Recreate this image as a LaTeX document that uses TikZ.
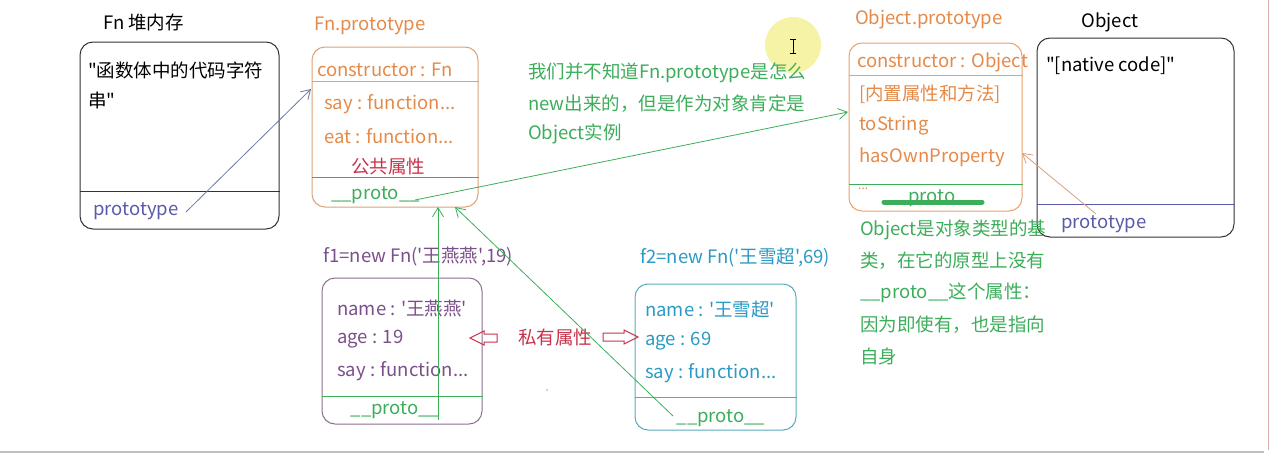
\documentclass[tikz,border=0pt]{standalone}
\usepackage{fontspec}
\newfontfamily\yh{Noto Sans CJK SC}
\usetikzlibrary{arrows.meta}
\definecolor{boxblack}{HTML}{333333}
\definecolor{protoblue}{HTML}{5A5AAA}
\definecolor{orng}{HTML}{E58A48}
\definecolor{orngbox}{HTML}{DBA277}
\definecolor{crim}{HTML}{C8334A}
\definecolor{grn}{HTML}{3CAE5A}
\definecolor{purp}{HTML}{7B4F8B}
\definecolor{purpbox}{HTML}{8C7090}
\definecolor{teal}{HTML}{2B9AC4}
\definecolor{tealbox}{HTML}{5AAABB}
\definecolor{arrblue}{HTML}{6A7AA8}
\definecolor{arrtan}{HTML}{D8A080}
\definecolor{cursory}{HTML}{F6F3A6}
\tikzset{
  x=1pt, y=-1pt,
  txt/.style={inner sep=0pt, anchor=west, font=\yh\fontsize{18.5}{22}\selectfont},
  ctxt/.style={inner sep=0pt, anchor=center, font=\yh\fontsize{18.5}{22}\selectfont},
  umlbox/.style={draw=#1, line width=1pt, rounded corners=13pt, inner sep=0pt, fill=none},
  conn/.style={draw=#1, line width=0.8pt, -{Straight Barb[length=9pt,width=11pt,line width=0.8pt]}},
  hollow/.style={draw=crim, line width=1pt, line join=miter},
}
\begin{document}
\begin{tikzpicture}
\useasboundingbox (0,0) rectangle (1272,455);
\fill[white] (0,0) rectangle (1272,455);
% screen artifacts
\fill[cursory] (793,45) circle (28);
\draw[line width=1pt] (793,39) -- (793,53) (790,39) -- (796,39) (790,53) -- (796,53);
\draw[color=pink!70!gray, line width=1pt] (1268,0) -- (1268,450);
\draw[color=gray!50, line width=1.2pt] (0,452) -- (1264,452);
\fill[gray!70] (547,390) circle (0.8);

% ---------- Fn heap ----------
\node[txt, text=black] (heaptitle) at (103,22) {Fn 堆内存};
\node[umlbox=boxblack, minimum width=199pt, minimum height=187pt] (heap) at (179.5,135.5) {};
\draw[boxblack, line width=1pt] (heap.west |- 0,191) -- (heap.east |- 0,191);
\node[txt, text=black] (heapcode1) at (88,70) {"函数体中的代码字符};
\node[txt, text=black] (heapcode2) at (88,100) {串"};
\node[txt, text=protoblue] (heapproto) at (93,211) {prototype};

% ---------- Fn.prototype ----------
\node[txt, text=orng] (fnptitle) at (314,26) {Fn.prototype};
\node[umlbox=orngbox, minimum width=166pt, minimum height=160pt] (fnp) at (395,127) {};
\draw[orngbox, line width=1pt] (fnp.west |- 0,81) -- (fnp.east |- 0,81);
\draw[grn, line width=1pt] (fnp.west |- 0,177) -- (fnp.east |- 0,177);
\node[txt, text=orng] (fnpctor) at (317,70) {constructor : Fn};
\node[txt, text=orng] (fnpsay) at (324,104) {say : function...};
\node[txt, text=orng] (fnpeat) at (324,136) {eat : function...};
\node[ctxt, text=crim] (fnppub) at (388,166) {公共属性};
\node[txt, text=grn] (fnpproto) at (331,195) {\_\_proto\_\_};

% ---------- green note ----------
\node[txt, text=grn] (note1) at (528,73) {我们并不知道Fn.prototype是怎么};
\node[txt, text=grn] (note2) at (528,104) {new出来的，但是作为对象肯定是};
\node[txt, text=grn] (note3) at (528,134) {Object实例};

% ---------- Object.prototype ----------
\node[txt, text=orng] (optitle) at (855,19) {Object.prototype};
\node[umlbox=orng!80, minimum width=173pt, minimum height=168pt] (op) at (935.5,127) {};
\draw[orng!80, line width=1pt] (op.west |- 0,75) -- (op.east |- 0,75);
\draw[grn, line width=1pt] (op.west |- 0,184) -- (op.east |- 0,184);
\node[txt, text=orng] (opctor) at (857,62) {constructor : Object};
\node[txt, text=orng] (opbuiltin) at (859,94) {[内置属性和方法]};
\node[txt, text=orng] (optostring) at (859,126) {toString};
\node[txt, text=orng] (ophas) at (859,157) {hasOwnProperty};
\node[txt, text=orng] (opdots) at (858,189) {\fontsize{12}{12}\selectfont ...};
\node[ctxt, text=grn] (opproto) at (932,198) {\_\_proto\_\_};
\draw[grn, line width=5pt, line cap=round] (884,202) -- (982,202);

% ---------- Object ----------
\node[ctxt, text=black] (objtitle) at (1110,22) {Object};
\node[umlbox=boxblack, minimum width=197pt, minimum height=199pt] (obj) at (1135.5,137.5) {};
\draw[protoblue, line width=1pt] (obj.west |- 0,204) -- (obj.east |- 0,204);
\node[txt, text=black] (objcode) at (1046,66) {"[native code]"};
\node[txt, text=protoblue] (objproto) at (1061,224) {prototype};

% ---------- Object note ----------
\node[txt, text=grn] (onote1) at (860,230) {Object是对象类型的基};
\node[txt, text=grn] (onote2) at (860,261) {类，在它的原型上没有};
\node[txt, text=grn] (onote3) at (860,293) {\_\_proto\_\_这个属性：};
\node[txt, text=grn] (onote4) at (860,325) {因为即使有，也是指向};
\node[txt, text=grn] (onote5) at (860,357) {自身};

% ---------- f1 ----------
\node[txt, text=purp] (f1title) at (323,257) {f1=new Fn('王燕燕',19)};
\node[umlbox=purpbox, minimum width=160pt, minimum height=146pt] (f1) at (402,351) {};
\draw[grn, line width=1pt] (f1.west |- 0,396) -- (f1.east |- 0,396);
\node[txt, text=purp] (f1name) at (337,308) {name : '王燕燕'};
\node[txt, text=purp] (f1age) at (337,339) {age : 19};
\node[txt, text=purp] (f1say) at (337,371) {say : function...};
\node[ctxt, text=grn] (f1proto) at (395,410) {\_\_proto\_\_};

% ---------- f2 ----------
\node[txt, text=teal] (f2title) at (640,258) {f2=new Fn('王雪超',69)};
\node[umlbox=tealbox, minimum width=161pt, minimum height=146pt] (f2) at (715.5,357) {};
\draw[tealbox, line width=1pt] (f2.west |- 0,397) -- (f2.east |- 0,397);
\node[txt, text=teal] (f2name) at (645,309) {name : '王雪超'};
\node[txt, text=teal] (f2age) at (645,341) {age : 69};
\node[txt, text=teal] (f2say) at (645,373) {say : function...};
\node[ctxt, text=grn] (f2proto) at (721,418) {\_\_proto\_\_};

% ---------- private ----------
\node[ctxt, text=crim] (private) at (555,337) {私有属性};
\draw[hollow] (470,338) -- (484,331) -- (484,334) -- (497,334) -- (497,342) -- (484,342) -- (484,345) -- cycle;
\draw[hollow] (638,337) -- (624,330) -- (624,333) -- (603,333) -- (603,341) -- (624,341) -- (624,344) -- cycle;

% ---------- connectors ----------
\coordinate (hp) at (186,212);
\coordinate (fnpIn) at (311,89);
\coordinate (fnpOut) at (415,200);
\coordinate (opIn) at (848,112);
\coordinate (obp) at (1096,214);
\coordinate (opHas) at (1022,153);
\coordinate (fnpBot1) at (438,207);
\coordinate (fnpBot2) at (455,207);
\coordinate (f1Up) at (438,420);
\coordinate (f2Up) at (673,416);
\draw[conn=arrblue] (hp) -- (fnpIn);
\draw[conn=grn] (fnpOut) -- (opIn);
\draw[conn=arrtan] (obp) -- (opHas);
\draw[conn=grn] (f1Up) -- (fnpBot1);
\draw[conn=grn] (f2Up) -- (fnpBot2);
\end{tikzpicture}
\end{document}
